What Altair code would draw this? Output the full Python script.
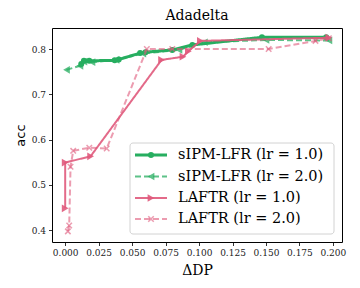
import altair as alt
import pandas as pd

# ---- data ----
sipm1_x = [0.012, 0.014, 0.018, 0.037, 0.040, 0.056, 0.060, 0.080, 0.095, 0.147, 0.195]
sipm1_y = [0.767, 0.774, 0.774, 0.775, 0.777, 0.791, 0.793, 0.798, 0.809, 0.826, 0.826]

sipm2_x = [0.001, 0.011, 0.014, 0.020, 0.038, 0.058, 0.085, 0.104, 0.150, 0.197]
sipm2_y = [0.754, 0.763, 0.772, 0.771, 0.776, 0.790, 0.798, 0.815, 0.820, 0.819]

laftr1_x = [0.0, 0.0, 0.019, 0.072, 0.088, 0.092, 0.101, 0.197]
laftr1_y = [0.448, 0.549, 0.563, 0.776, 0.783, 0.795, 0.818, 0.825]

laftr2_x = [0.002, 0.003, 0.004, 0.006, 0.018, 0.031, 0.061, 0.080, 0.152, 0.187, 0.197]
laftr2_y = [0.397, 0.410, 0.540, 0.575, 0.582, 0.580, 0.800, 0.800, 0.800, 0.818, 0.824]

labels = ["sIPM-LFR (lr = 1.0)", "sIPM-LFR (lr = 2.0)", "LAFTR (lr = 1.0)", "LAFTR (lr = 2.0)"]
x_ticks = [0.0, 0.025, 0.05, 0.075, 0.1, 0.125, 0.15, 0.175, 0.2]
y_ticks = [0.4, 0.5, 0.6, 0.7, 0.8]

SERIF = "DejaVu Serif, Liberation Serif, serif"
GREEN = "#27ae60"
RED = "#e05a7c"
XPATH = "M-1,-1L1,1M-1,1L1,-1"

styles = [
    dict(color=GREEN, opacity=1.0, dash=[1, 0], width=3.0, shape="circle", filled=True, size=36),
    dict(color=GREEN, opacity=0.75, dash=[6, 3], width=2.0, shape="triangle-left", filled=True, size=60),
    dict(color=RED, opacity=0.9, dash=[1, 0], width=2.0, shape="triangle-right", filled=True, size=60),
    dict(color=RED, opacity=0.6, dash=[6, 3], width=2.0, shape=XPATH, filled=False, size=30),
]
series = [(sipm1_x, sipm1_y), (sipm2_x, sipm2_y), (laftr1_x, laftr1_y), (laftr2_x, laftr2_y)]

x_scale = alt.Scale(domain=[-0.00985, 0.2068], nice=False, zero=False)
y_scale = alt.Scale(domain=[0.3735, 0.8465], nice=False, zero=False)

x_axis = alt.Axis(values=x_ticks, format=".3f", title="ΔDP", grid=False, domain=False,
                  tickColor="black", tickSize=3.5, tickWidth=0.8,
                  labelFont=SERIF, labelFontSize=9, labelColor="#222222", labelPadding=3,
                  titleFont=SERIF, titleFontSize=14, titleFontWeight="normal",
                  titleColor="black", titlePadding=6)
y_axis = alt.Axis(values=y_ticks, format=".1f", title="acc", grid=False, domain=False,
                  tickColor="black", tickSize=3.5, tickWidth=0.8,
                  labelFont=SERIF, labelFontSize=9, labelColor="#222222", labelPadding=3,
                  titleFont="DejaVu Sans", titleFontSize=13, titleFontWeight="normal",
                  titleColor="black", titlePadding=4)

enc_x = alt.X("x:Q", scale=x_scale, axis=x_axis)
enc_y = alt.Y("y:Q", scale=y_scale, axis=y_axis)

layers = []
for (xs, ys), st in zip(series, styles):
    df = pd.DataFrame({"x": xs, "y": ys, "i": list(range(len(xs)))})
    base = alt.Chart(df)
    line = base.mark_line(color=st["color"], opacity=st["opacity"], strokeDash=st["dash"],
                          strokeWidth=st["width"]).encode(x=enc_x, y=enc_y, order="i:Q")
    if st["filled"]:
        pts = base.mark_point(shape=st["shape"], filled=True, color=st["color"],
                              opacity=st["opacity"], size=st["size"], strokeWidth=0)
    else:
        pts = base.mark_point(shape=st["shape"], filled=False, color=st["color"],
                              opacity=st["opacity"], size=st["size"], strokeWidth=1.5)
    pts = pts.encode(x=enc_x, y=enc_y)
    layers += [line, pts]

# ---- manual legend ----
one = pd.DataFrame({"a": [0]})
box = alt.Chart(one).mark_rect(fill="white", stroke="#cccccc", strokeWidth=1,
                               cornerRadius=3, opacity=0.85).encode(
    x=alt.value(78), x2=alt.value(282), y=alt.value(115), y2=alt.value(206))
layers.append(box)
row_y = [127, 148.5, 170, 191]
for lab, st, ry in zip(labels, styles, row_y):
    ldf = pd.DataFrame({"label": [lab]})
    lb = alt.Chart(ldf)
    layers.append(lb.mark_rule(color=st["color"], opacity=st["opacity"], strokeDash=st["dash"],
                               strokeWidth=st["width"]).encode(
        x=alt.value(83), x2=alt.value(115), y=alt.value(ry)))
    if st["filled"]:
        m = lb.mark_point(shape=st["shape"], filled=True, color=st["color"],
                          opacity=st["opacity"], size=st["size"], strokeWidth=0)
    else:
        m = lb.mark_point(shape=st["shape"], filled=False, color=st["color"],
                          opacity=st["opacity"], size=st["size"], strokeWidth=1.5)
    layers.append(m.encode(x=alt.value(99), y=alt.value(ry)))
    layers.append(lb.mark_text(align="left", baseline="middle", font=SERIF,
                               fontSize=14.5, color="black").encode(
        x=alt.value(126), y=alt.value(ry), text="label:N"))

chart = alt.layer(*layers).properties(
    width=290, height=214,
    background="white",
    title=alt.Title("Adadelta", font=SERIF, fontSize=14, fontWeight="normal",
                    offset=5, color="black"),
    autosize=alt.AutoSizeParams(type="none"),
    padding={"left": 44, "top": 20, "right": 5, "bottom": 38},
).configure_view(stroke="black", strokeWidth=1)

chart.save("out.html", embed_options={"renderer": "svg", "actions": False})
